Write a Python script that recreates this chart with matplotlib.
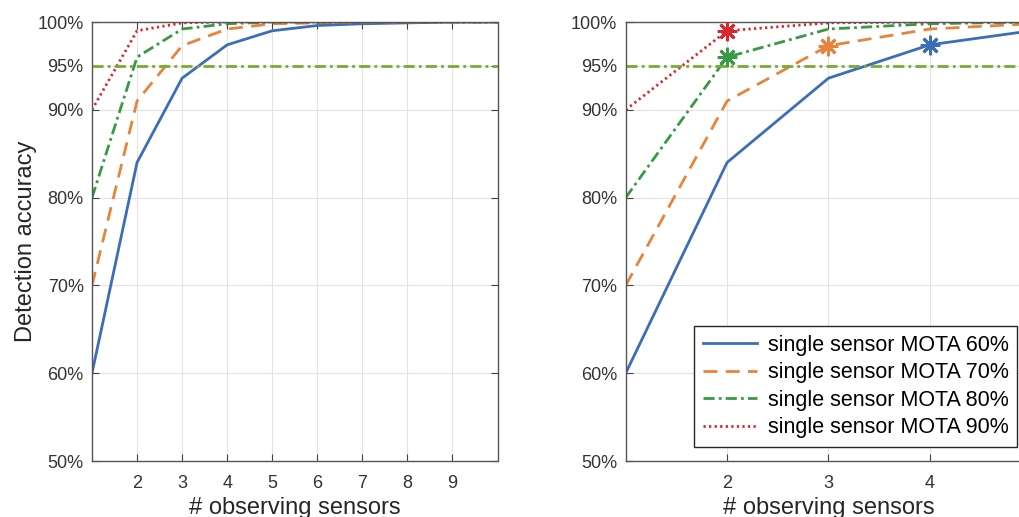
import numpy as np
import matplotlib.pyplot as plt
from matplotlib.lines import Line2D

plt.rcParams['font.family'] = ['Liberation Sans', 'DejaVu Sans']

# data
sensors = [1, 2, 3, 4, 5, 6, 7, 8, 9, 10]
acc_60 = [60, 84, 93.6, 97.4, 99.0, 99.6, 99.8, 99.9, 100, 100]
acc_70 = [70, 91, 97.3, 99.2, 99.8, 99.9, 100, 100, 100, 100]
acc_80 = [80, 96, 99.2, 99.8, 100, 100, 100, 100, 100, 100]
acc_90 = [90, 99, 99.9, 100, 100, 100, 100, 100, 100, 100]
labels = ['single sensor MOTA 60%', 'single sensor MOTA 70%',
          'single sensor MOTA 80%', 'single sensor MOTA 90%']
threshold = 95
# first sensor count that reaches the threshold (right panel markers)
star_x = [4, 3, 2, 2]
star_y = [97.4, 97.3, 96, 99]

yticks = [50, 60, 70, 80, 90, 95, 100]
ytick_labels = ['50%', '60%', '70%', '80%', '90%', '95%', '100%']

series = [acc_60, acc_70, acc_80, acc_90]
colors = ['#3C6DB8', '#E8833A', '#389A45', '#D8262D']
styles = ['-', (0, (5, 3)), (0, (4, 1.5, 1, 1.5)), (0, (0.8, 1.2))]
thr_color = '#77AC30'

fig = plt.figure(figsize=(10.19, 5.17), dpi=100)
ax1 = fig.add_axes([92 / 1019, 56 / 517, 405.5 / 1019, 439 / 517])
ax2 = fig.add_axes([625.7 / 1019, 56 / 517, 405.5 / 1019, 439 / 517])

for ax, xmax in [(ax1, 10), (ax2, 5)]:
    for vals, c, ls, lab in zip(series, colors, styles, labels):
        ax.plot(sensors, vals, color=c, linestyle=ls, linewidth=2, label=lab)
    ax.axhline(threshold, color=thr_color, linestyle=(0, (4, 1.5, 1, 1.5)), linewidth=2)
    ax.set_xlim(1, xmax)
    ax.set_ylim(50, 100)
    ax.set_xticks(range(2, xmax))
    ax.set_yticks(yticks)
    ax.set_yticklabels(ytick_labels)
    ax.grid(True, color='#e3e3e3', linewidth=0.8)
    ax.set_axisbelow(True)
    ax.tick_params(direction='in', top=True, right=True, length=5,
                   labelsize=13, colors='#404040', labelcolor='#333333', width=0.8)
    ax.tick_params(axis='x', pad=10)
    ax.tick_params(axis='y', pad=6)
    for s in ax.spines.values():
        s.set_color('#555555')
        s.set_linewidth(1)
    ax.set_xlabel('# observing sensors', fontsize=17, color='#262626', labelpad=4)

ax1.set_ylabel('Detection accuracy', fontsize=17, color='#262626', labelpad=0)

for x, y, c in zip(star_x, star_y, colors):
    ax2.plot(x, y, marker=(8, 2, 0), markersize=14, color=c, markeredgewidth=2,
             linestyle='none', zorder=5)

handles = [Line2D([], [], color=c, linestyle=ls, linewidth=2) for c, ls in zip(colors, styles)]
leg = ax2.legend(handles, labels, loc='lower right', bbox_to_anchor=(0.965, 0.032),
                 borderaxespad=0, fontsize=15.5, handlelength=2.5, labelspacing=0.3,
                 handletextpad=0.5, fancybox=False, framealpha=1, edgecolor='#262626')
leg.get_frame().set_linewidth(1)

fig.savefig('out.png', dpi=100)
